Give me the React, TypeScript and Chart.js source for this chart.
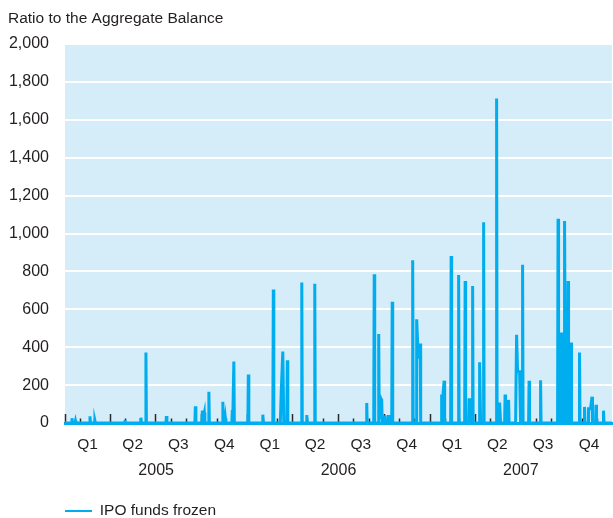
import React, { useEffect, useRef } from 'react';
import { Chart, registerables } from 'chart.js';

Chart.register(...registerables);

// ---- Data (days counted from 1 Jan 2005) ----
const seriesName = 'IPO funds frozen';
const chartTitle = 'Ratio to the Aggregate Balance';
const quarterLabels = ['Q1', 'Q2', 'Q3', 'Q4'];
const yearLabels = ['2005', '2006', '2007'];
const firstYear = 2005;
const yMin = 0;
const yMax = 2000;
const yStep = 200;

const days = [
  0,
  13, 14, 15,
  20, 21, 22,
  49, 50, 51,
  59, 60, 61,
  119, 120, 121,
  151, 152, 153,
  161, 162, 163,
  202, 203, 204,
  260, 261, 262,
  274, 275, 277, 279, 280,
  287, 288, 289,
  315, 316, 317,
  320, 321, 322,
  334, 335, 336, 338, 339,
  366, 367, 368,
  395, 396, 397,
  416, 417, 418,
  431, 433, 436, 438,
  444, 445, 446,
  473, 474, 475,
  483, 484, 485,
  499, 500, 501,
  603, 604, 605,
  618, 619, 620,
  627, 628, 629, 630, 631, 633, 634, 635,
  639, 640, 641,
  646, 647, 648,
  654, 655, 656,
  695, 696, 697,
  703, 704, 707, 708, 711, 712,
  753, 754, 756, 759, 760,
  772, 773, 774,
  787, 788, 789,
  800, 801, 802,
  808, 809, 812, 813,
  815, 816, 817,
  829, 830, 832,
  837, 838, 839,
  863, 864, 865,
  868, 870, 872,
  880, 881, 882,
  887, 888, 889,
  902, 904, 906, 910, 912,
  915, 916, 917,
  928, 929, 930,
  951, 952, 953,
  986, 987, 988,
  993, 994, 995,
  999, 1000, 1002,
  1006, 1007, 1008,
  1012, 1013, 1014,
  1029, 1030, 1031,
  1039, 1040, 1041,
  1047, 1048, 1052, 1055, 1056,
  1062, 1063, 1064,
  1077, 1078, 1079,
  1095,
];

const ratios = [
  0,
  0, 25, 0,
  0, 12, 0,
  0, 35, 0,
  0, 12, 0,
  0, 15, 0,
  0, 28, 0,
  0, 372, 0,
  0, 37, 0,
  0, 88, 0,
  0, 65, 30, 55, 0,
  0, 165, 0,
  0, 112, 0,
  0, 25, 0,
  0, 68, 40, 325, 0,
  0, 256, 0,
  0, 44, 0,
  0, 705, 0,
  0, 175, 377, 0,
  0, 331, 0,
  0, 742, 0,
  0, 42, 0,
  0, 735, 0,
  0, 105, 0,
  0, 785, 0,
  0, 470, 30, 58, 20, 126, 120, 0,
  0, 40, 0,
  0, 42, 0,
  0, 640, 0,
  0, 859, 0,
  0, 547, 354, 340, 419, 0,
  0, 135, 130, 223, 0,
  0, 881, 0,
  0, 781, 0,
  0, 749, 0,
  0, 123, 123, 0,
  0, 723, 0,
  0, 320, 0,
  0, 1060, 0,
  0, 1712, 0,
  0, 108, 0,
  0, 150, 0,
  0, 122, 0,
  0, 466, 270, 270, 0,
  0, 835, 0,
  0, 223, 0,
  0, 226, 0,
  0, 1078, 0,
  0, 477, 0,
  0, 1066, 0,
  0, 749, 0,
  0, 425, 0,
  0, 372, 0,
  0, 85, 0,
  0, 75, 75, 139, 0,
  0, 96, 0,
  0, 65, 0,
  0,
];

// ---- Styles ----
const BLUE = '#00AEEF';
const BG = '#D5ECF9';
const TEXT = '#231F20';
const FAMILY = '"Liberation Sans", Arial, Helvetica, sans-serif';

const DAY_MS = 86400000;
const origin = Date.UTC(firstYear, 0, 1);
const nMonths = yearLabels.length * 12;
const monthStarts = Array.from({ length: nMonths + 1 }, (_, k) =>
  (Date.UTC(firstYear + Math.floor(k / 12), k % 12, 1) - origin) / DAY_MS
);
const totalDays = monthStarts[nMonths];
const quarterCenters = Array.from({ length: nMonths / 3 }, (_, q) =>
  (monthStarts[q * 3] + monthStarts[q * 3 + 3]) / 2
);
const yearCenters = yearLabels.map((_, y) => (monthStarts[y * 12] + monthStarts[y * 12 + 12]) / 2);

const plotBackground = {
  id: 'plotBackground',
  beforeDraw(chart: any) {
    const { ctx, chartArea } = chart;
    ctx.save();
    ctx.fillStyle = BG;
    ctx.fillRect(chartArea.left, chartArea.top, chartArea.right - chartArea.left, chartArea.bottom - chartArea.top);
    ctx.restore();
  },
};

const monthTicks = {
  id: 'monthTicks',
  beforeDatasetsDraw(chart: any) {
    const { ctx, chartArea, scales } = chart;
    const xs = scales.x;
    ctx.save();
    ctx.strokeStyle = '#2b2b2b';
    ctx.lineWidth = 1.5;
    for (let k = 0; k < nMonths; k++) {
      const px = Math.round(xs.getPixelForValue(monthStarts[k])) + 0.5;
      const len = k % 3 === 0 ? 9 : 4.5;
      ctx.beginPath();
      ctx.moveTo(px, chartArea.bottom);
      ctx.lineTo(px, chartArea.bottom - len);
      ctx.stroke();
    }
    ctx.restore();
  },
};

const legendShift = {
  id: 'legendShift',
  afterLayout(chart: any) {
    const lg = chart.legend;
    if (lg) {
      lg.top += 10.75;
      lg.bottom += 10.75;
    }
  },
};

export default function App() {
  const canvasRef = useRef<HTMLCanvasElement | null>(null);

  useEffect(() => {
    document.body.style.margin = '0';
    const canvas = canvasRef.current;
    if (!canvas) return;
    const chart = new Chart(canvas, {
      type: 'line',
      data: {
        datasets: [
          {
            label: seriesName,
            data: days.map((d, i) => ({ x: d, y: ratios[i] })),
            borderColor: BLUE,
            backgroundColor: BLUE,
            borderWidth: 3,
            pointRadius: 0,
            tension: 0,
            fill: false,
          },
        ],
      },
      options: {
        responsive: false,
        animation: false,
        layout: { padding: { left: 8, right: 1, top: 0, bottom: 0 } },
        scales: {
          x: {
            type: 'linear',
            position: 'bottom',
            weight: 0,
            min: 0,
            max: totalDays,
            afterBuildTicks: (s: any) => {
              s.ticks = quarterCenters.map((v) => ({ value: v }));
            },
            afterFit: (s: any) => {
              s.height = 36;
            },
            ticks: {
              autoSkip: false,
              maxRotation: 0,
              padding: 12.7,
              color: TEXT,
              font: { family: FAMILY, size: 15.5 },
              callback: (_v: any, i: number) => quarterLabels[i % quarterLabels.length],
            },
            grid: { display: false, drawTicks: false },
            border: { display: true, color: BLUE, width: 3 },
          },
          x2: {
            type: 'linear',
            position: 'bottom',
            weight: 1,
            min: 0,
            max: totalDays,
            afterBuildTicks: (s: any) => {
              s.ticks = yearCenters.map((v) => ({ value: v }));
            },
            afterFit: (s: any) => {
              s.height = 33.5;
            },
            ticks: {
              autoSkip: false,
              maxRotation: 0,
              padding: 1.9,
              color: TEXT,
              font: { family: FAMILY, size: 16 },
              callback: (_v: any, i: number) => yearLabels[i],
            },
            grid: { display: false, drawTicks: false },
            border: { display: false },
          },
          y: {
            min: yMin,
            max: yMax,
            afterFit: (s: any) => {
              s.width = 57;
            },
            ticks: {
              stepSize: yStep,
              padding: 16,
              color: TEXT,
              font: { family: FAMILY, size: 16 },
              callback: (v: any) => Number(v).toLocaleString('en-US'),
            },
            grid: { color: '#FFFFFF', lineWidth: 2, drawTicks: false },
            border: { display: false },
          },
        },
        plugins: {
          title: {
            display: true,
            text: chartTitle,
            align: 'start',
            color: TEXT,
            font: { family: FAMILY, size: 15.5, weight: 'normal' },
            padding: { top: 9, bottom: 16.4 },
          },
          legend: {
            display: true,
            position: 'bottom',
            align: 'start',
            fullSize: false,
            labels: {
              boxWidth: 27,
              boxHeight: 2,
              padding: 0,
              color: TEXT,
              font: { family: FAMILY, size: 15.5 },
              generateLabels: () => [
                {
                  text: seriesName,
                  fillStyle: BLUE,
                  strokeStyle: BLUE,
                  lineWidth: 0,
                  hidden: false,
                  datasetIndex: 0,
                  fontColor: TEXT,
                },
              ],
            },
          },
          tooltip: { enabled: false },
        },
      },
      plugins: [plotBackground, monthTicks, legendShift],
    } as any);
    return () => chart.destroy();
  }, []);

  return (
    <div style={{ width: 613, height: 518 }}>
      <canvas ref={canvasRef} width={613} height={518} style={{ display: 'block' }} />
    </div>
  );
}
